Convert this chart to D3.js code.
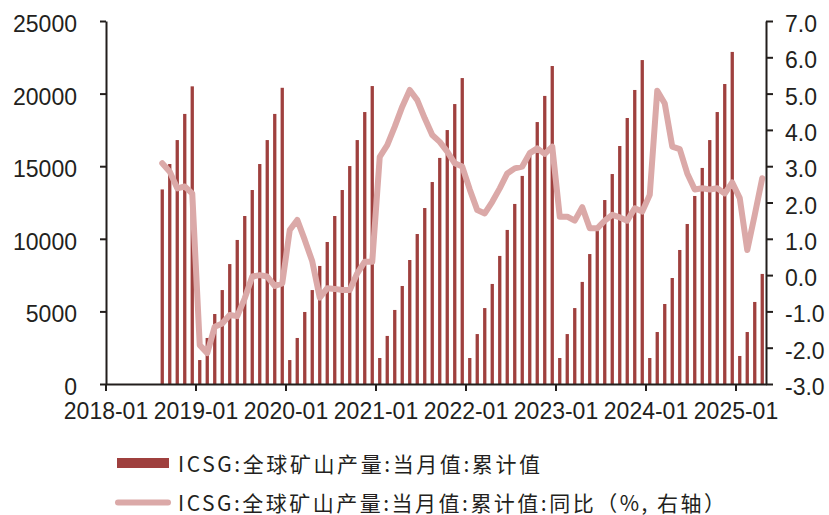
<!DOCTYPE html>
<html>
<head>
<meta charset="utf-8">
<script src="https://cdn.jsdelivr.net/npm/d3@7"></script>
<style>
  html, body { margin: 0; padding: 0; background: #ffffff; }
  svg { display: block; }
</style>
</head>
<body>
<svg id="chart" width="829" height="515"></svg>
<script>
// ---- data ----
const firstAxisMonth = "2018-01";
const lastAxisMonth = "2025-04";
const dataStartMonth = "2018-08";

// ICSG global mine production, cumulative (kt), monthly from 2018-08
const cumulativeValues = [
  13400, 15150, 16800, 18600, 20500,
  1650, 3170, 4820, 6470, 8260, 9920, 11570, 13360, 15150, 16800, 18600, 20400,
  1650, 3170, 4960, 6470, 8130, 9780, 11570, 13360, 15010, 16800, 18730, 20520,
  1790, 3310, 5100, 6750, 8540, 10330, 12120, 13910, 15570, 17490, 19280, 21070,
  1790, 3440, 5230, 6890, 8820, 10610, 12400, 14330, 15980, 18040, 19840, 21900,
  1790, 3440, 5230, 7030, 8950, 10610, 12670, 14460, 16390, 18320, 20250, 22310,
  1790, 3580, 5510, 7300, 9230, 11020, 12950, 14880, 16800, 18730, 20660, 22870,
  1930, 3580, 5650, 7580
];

// YoY (%), right axis, monthly from 2018-08
const yoyValues = [
  3.08, 2.85, 2.39, 2.44, 2.25,
  -1.93, -2.15, -1.42, -1.33, -1.10, -1.13, -0.64, -0.04, 0.00, -0.04, -0.30, -0.23,
  1.24, 1.52, 0.97, 0.38, -0.62, -0.36, -0.38, -0.41, -0.41, 0.05, 0.37, 0.37,
  3.26, 3.58, 4.09, 4.64, 5.10, 4.82, 4.32, 3.86, 3.67, 3.40, 3.08, 2.99,
  2.36, 1.79, 1.70, 2.02, 2.39, 2.80, 2.94, 2.99, 3.36, 3.49, 3.34, 3.54,
  1.61, 1.61, 1.50, 1.87, 1.29, 1.29, 1.50, 1.66, 1.59, 1.50, 1.84, 1.75,
  2.21, 5.08, 4.73, 3.54, 3.47, 2.80, 2.36, 2.39, 2.36, 2.39, 2.25, 2.55,
  2.12, 0.69, 1.66, 2.67
];

const xTickLabels = ["2018-01","2019-01","2020-01","2021-01","2022-01","2023-01","2024-01","2025-01"];
const leftTicks = [0, 5000, 10000, 15000, 20000, 25000];
const rightTicks = [-3, -2, -1, 0, 1, 2, 3, 4, 5, 6, 7];

const legendBarLabel = "ICSG:全球矿山产量:当月值:累计值";
const legendLineLabel = "ICSG:全球矿山产量:当月值:累计值:同比（%, 右轴）";

// ---- build month categories ----
function monthList(from, to) {
  const out = [];
  let [y, m] = from.split("-").map(Number);
  const [ty, tm] = to.split("-").map(Number);
  while (y < ty || (y === ty && m <= tm)) {
    out.push(y + "-" + String(m).padStart(2, "0"));
    m++; if (m > 12) { m = 1; y++; }
  }
  return out;
}
const axisMonths = monthList(firstAxisMonth, lastAxisMonth);
const dataMonths = monthList(dataStartMonth, lastAxisMonth);
const barData = dataMonths.map((mo, i) => ({ month: mo, value: cumulativeValues[i] }));
const lineData = dataMonths.map((mo, i) => ({ month: mo, value: yoyValues[i] }));

// ---- layout ----
const plot = { left: 106, right: 766, top: 21, bottom: 384 };
const barColor = "#9f403e";
const lineColor = "#dba9a8";
const axisColor = "#221e1c";
const textColor = "#231f20";
const tickFont = "'Liberation Sans', Arial, sans-serif";
const cjkFont = "'Noto Sans CJK SC', 'Noto Sans', sans-serif";

const svg = d3.select("#chart");

const x = d3.scaleBand().domain(axisMonths).range([plot.left, plot.right]).padding(0);
const yL = d3.scaleLinear().domain([0, 25000]).range([plot.bottom, plot.top]);
const yR = d3.scaleLinear().domain([-3, 7]).range([plot.bottom, plot.top]);
const bw = x.bandwidth();
const barW = 3.3;

// bars
svg.append("g").selectAll("rect").data(barData).join("rect")
  .attr("x", d => x(d.month) + bw / 2 - barW / 2)
  .attr("y", d => yL(d.value))
  .attr("width", barW)
  .attr("height", d => yL(0) - yL(d.value))
  .attr("fill", barColor);

// line
const line = d3.line()
  .x(d => x(d.month) + bw / 2)
  .y(d => yR(d.value));
svg.append("path").datum(lineData)
  .attr("d", line)
  .attr("fill", "none")
  .attr("stroke", lineColor)
  .attr("stroke-width", 6)
  .attr("stroke-linejoin", "round")
  .attr("stroke-linecap", "round");

function styleAxis(g) {
  g.selectAll("path, line").attr("stroke", axisColor).attr("stroke-width", 2);
  g.selectAll("text").attr("fill", textColor)
    .style("font-family", tickFont).style("font-size", "23px");
}

// left axis
const gL = svg.append("g").attr("transform", `translate(${plot.left},0)`)
  .call(d3.axisLeft(yL).tickValues(leftTicks).tickFormat(d => String(d))
    .tickSize(6).tickSizeOuter(0).tickPadding(23));
styleAxis(gL);
gL.selectAll("text").attr("dy", "0.46em");

// right axis
const gR = svg.append("g").attr("transform", `translate(${plot.right},0)`)
  .call(d3.axisRight(yR).tickValues(rightTicks).tickFormat(d => d.toFixed(1))
    .tickSize(7).tickSizeOuter(0).tickPadding(12));
styleAxis(gR);
gR.selectAll("text").attr("dy", "0.46em");

// bottom axis (ticks on January band boundaries)
const gB = svg.append("g").attr("transform", `translate(0,${plot.bottom})`)
  .call(d3.axisBottom(x).tickValues(xTickLabels).tickSize(7).tickSizeOuter(0).tickPadding(12));
gB.selectAll(".tick").attr("transform", d => `translate(${x(d)},0)`);
styleAxis(gB);

// legend
const lg = svg.append("g");
lg.append("rect").attr("x", 117).attr("y", 458).attr("width", 52).attr("height", 10).attr("fill", barColor);
lg.append("text").attr("x", 178).attr("y", 472)
  .attr("textLength", 362).attr("lengthAdjust", "spacing")
  .style("font-family", cjkFont).style("font-size", "21px").attr("fill", textColor)
  .text(legendBarLabel);
lg.append("line").attr("x1", 118).attr("x2", 168).attr("y1", 502.5).attr("y2", 502.5)
  .attr("stroke", lineColor).attr("stroke-width", 6).attr("stroke-linecap", "round");
lg.append("text").attr("x", 178).attr("y", 510.5)
  .attr("textLength", 547).attr("lengthAdjust", "spacing")
  .style("font-family", cjkFont).style("font-size", "21px").attr("fill", textColor)
  .text(legendLineLabel);
</script>
</body>
</html>
